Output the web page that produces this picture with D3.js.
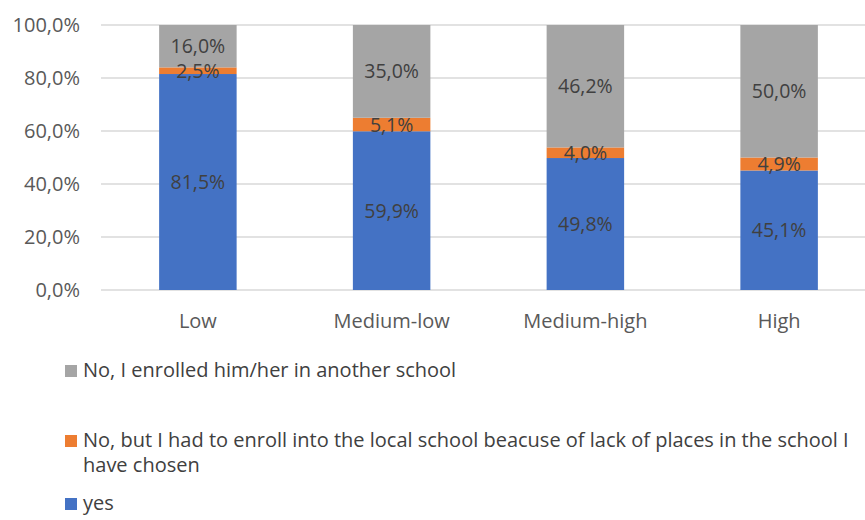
<!DOCTYPE html>
<html>
<head>
<meta charset="utf-8">
<script src="https://cdn.jsdelivr.net/npm/d3@7"></script>
<style>
  html, body { margin: 0; padding: 0; background: #fff; }
  svg text { font-family: "Open Sans", "Noto Sans", sans-serif; }
</style>
</head>
<body>
<svg id="chart" width="865" height="520"></svg>
<script>
// Income groups along the x axis
const categories = ["Low", "Medium-low", "Medium-high", "High"];

// Shares per answer (percent), stacked bottom to top
const yesValues = [81.5, 59.9, 49.8, 45.1];
const localSchoolValues = [2.5, 5.1, 4.0, 4.9];
const otherSchoolValues = [16.0, 35.0, 46.2, 50.0];

const seriesNames = [
  "yes",
  "No, but I had to enroll into the local school beacuse of lack of places in the school I have chosen",
  "No, I enrolled him/her in another school"
];
const seriesColors = ["#4472C4", "#ED7D31", "#A5A5A5"];

const yTicks = [0, 20, 40, 60, 80, 100];

const fmt = v => v.toFixed(1).replace(".", ",") + "%";

const rows = categories.map((c, i) => ({
  cat: c,
  s0: yesValues[i],
  s1: localSchoolValues[i],
  s2: otherSchoolValues[i]
}));

const svg = d3.select("#chart");
const x = d3.scaleBand().domain(categories).range([101, 876]).paddingInner(0.6).paddingOuter(0.3);
const y = d3.scaleLinear().domain([0, 100]).range([290, 25]);

// Gridlines
svg.append("g")
  .selectAll("line")
  .data(yTicks)
  .join("line")
  .attr("x1", 101).attr("x2", 865)
  .attr("y1", d => y(d)).attr("y2", d => y(d))
  .attr("stroke", "#d9d9d9").attr("stroke-width", 1.3);

// Y axis labels
const yAxis = d3.axisLeft(y).tickValues(yTicks).tickFormat(d => fmt(d)).tickSize(0).tickPadding(0);
svg.append("g")
  .attr("transform", "translate(80,0)")
  .call(yAxis)
  .call(g => g.select(".domain").remove())
  .call(g => g.selectAll("text")
    .attr("fill", "#595959").style("font-size", "20px")
    .style("font-family", "'Open Sans', sans-serif"));

// Stacked bars
const stack = d3.stack().keys(["s0", "s1", "s2"]);
const layers = stack(rows);

svg.append("g")
  .selectAll("g")
  .data(layers)
  .join("g")
  .attr("fill", (d, i) => seriesColors[i])
  .selectAll("rect")
  .data(d => d)
  .join("rect")
  .attr("x", d => x(d.data.cat))
  .attr("width", x.bandwidth())
  .attr("y", d => y(d[1]))
  .attr("height", d => y(d[0]) - y(d[1]));

// Segment value labels
const labelG = svg.append("g");
layers.forEach(layer => {
  labelG.selectAll(null)
    .data(layer)
    .join("text")
    .attr("x", d => x(d.data.cat) + x.bandwidth() / 2)
    .attr("y", d => y((d[0] + d[1]) / 2))
    .attr("dy", "0.36em")
    .attr("text-anchor", "middle")
    .attr("fill", "#404040")
    .style("font-size", "19.5px")
    .text(d => fmt(d[1] - d[0]));
});

// X axis labels
const xAxis = d3.axisBottom(x).tickSize(0).tickPadding(0);
svg.append("g")
  .attr("transform", "translate(0,314)")
  .call(xAxis)
  .call(g => g.select(".domain").remove())
  .call(g => g.selectAll("text")
    .attr("fill", "#595959").style("font-size", "20px")
    .style("font-family", "'Open Sans', sans-serif"));

// Legend (top to bottom: other school, local school, yes)
const legendItems = [
  { color: seriesColors[2], lines: [seriesNames[2]], y: 377 },
  { color: seriesColors[1],
    lines: ["No, but I had to enroll into the local school beacuse of lack of places in the school I", "have chosen"], y: 447 },
  { color: seriesColors[0], lines: [seriesNames[0]], y: 510 }
];
const lg = svg.append("g");
legendItems.forEach(it => {
  lg.append("rect")
    .attr("x", 65).attr("y", it.y - 12).attr("width", 12).attr("height", 12)
    .attr("fill", it.color);
  const t = lg.append("text")
    .attr("x", 83).attr("y", it.y)
    .attr("fill", "#404040")
    .style("font-size", "20px");
  it.lines.forEach((ln, k) => {
    t.append("tspan").attr("x", 83).attr("dy", k === 0 ? 0 : 25).text(ln);
  });
});
</script>
</body>
</html>
